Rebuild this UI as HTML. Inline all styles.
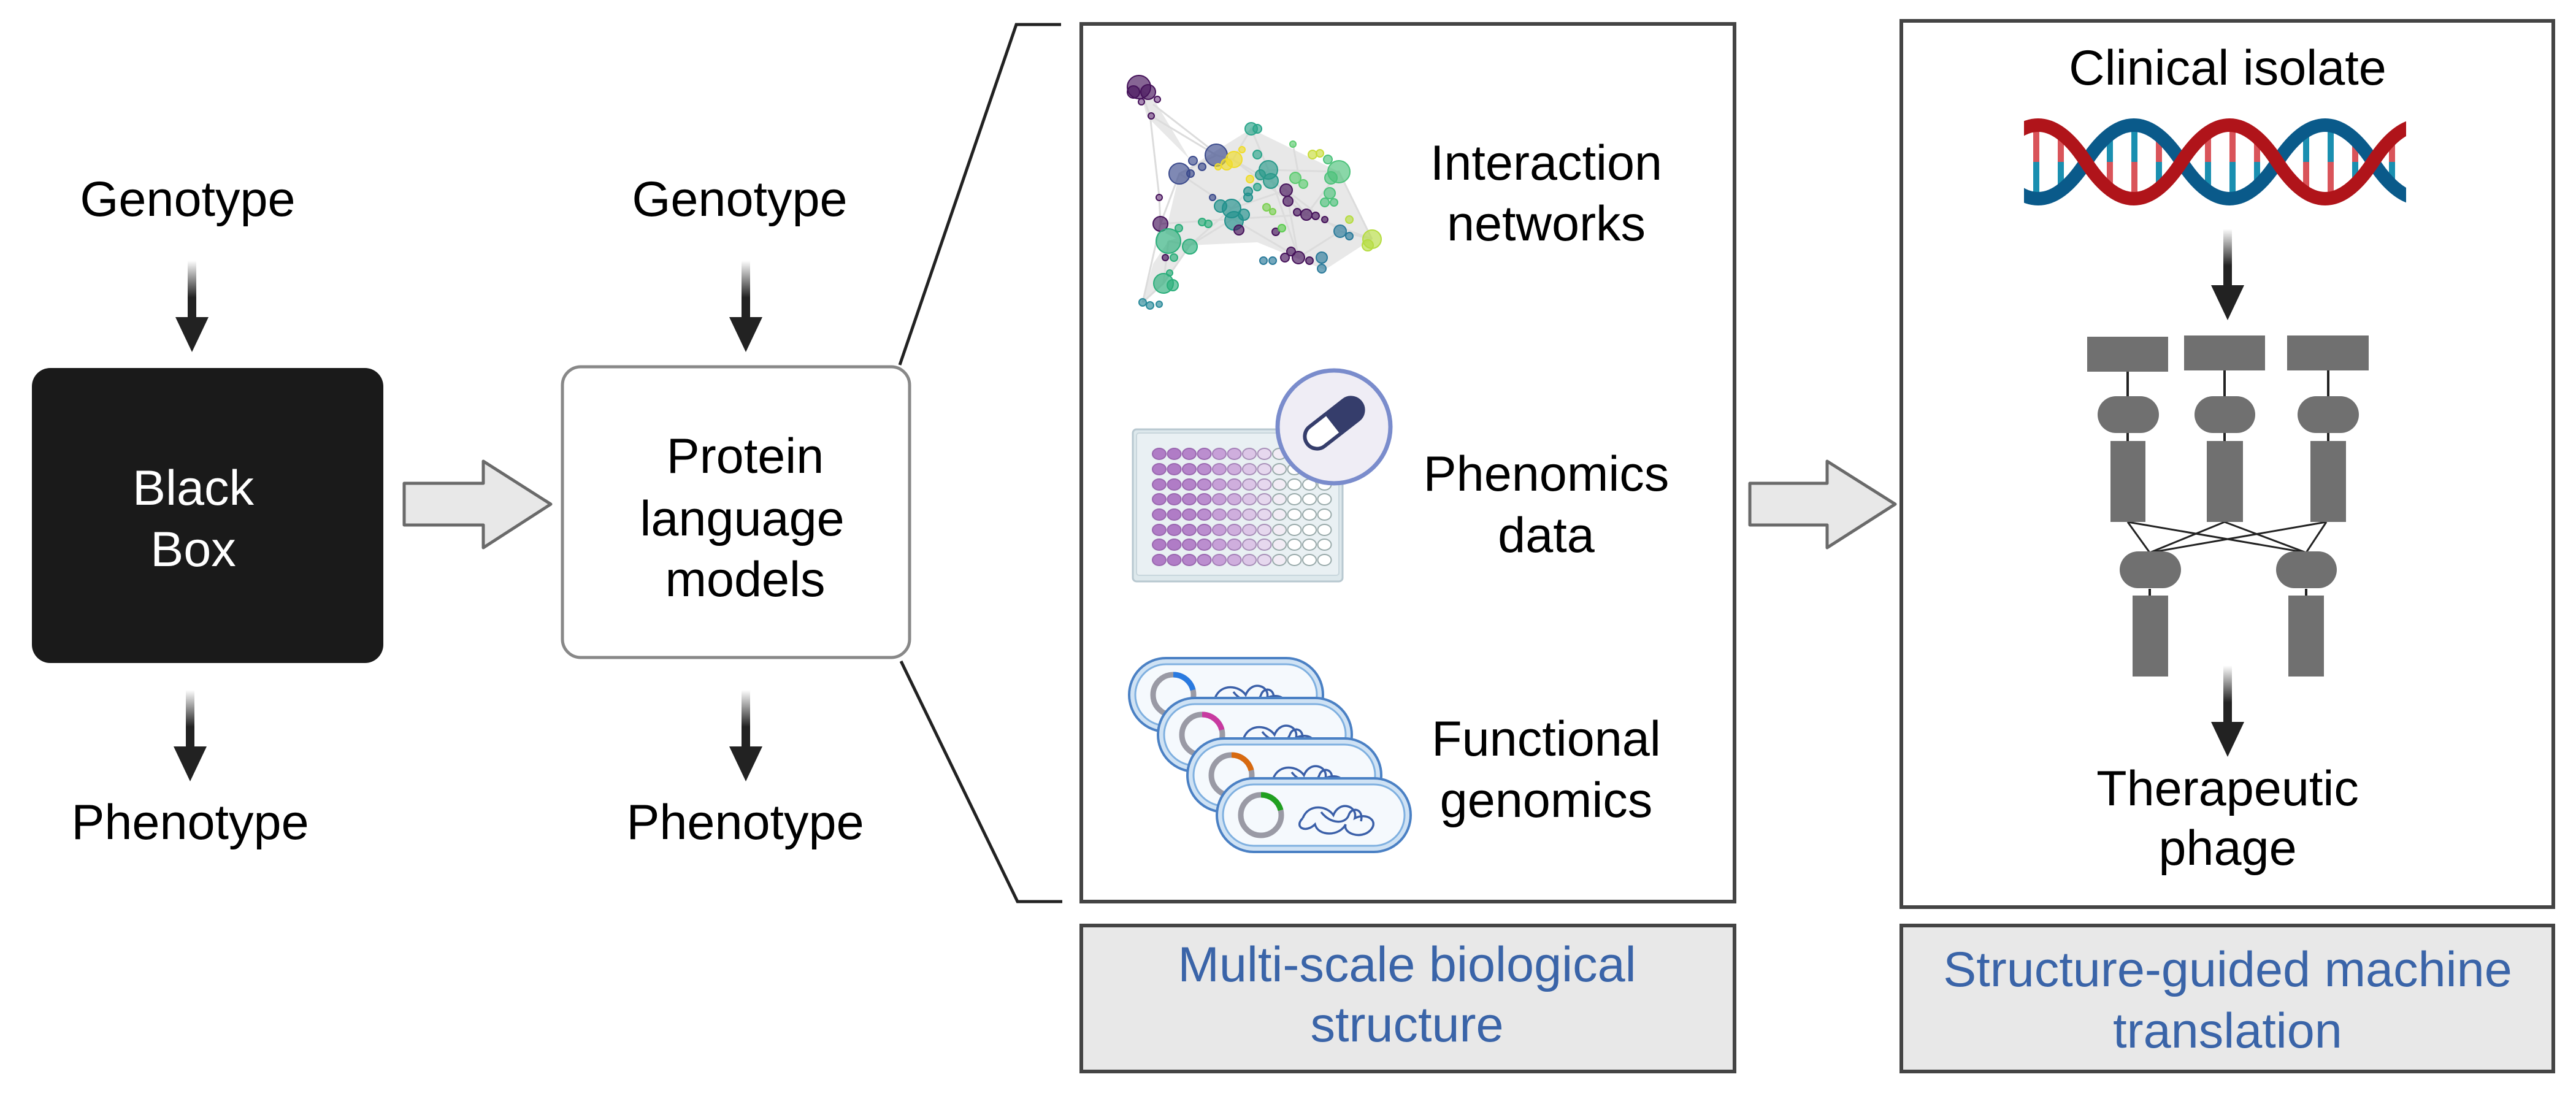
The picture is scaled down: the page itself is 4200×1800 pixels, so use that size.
<!DOCTYPE html>
<html><head><meta charset="utf-8"><style>
html,body{margin:0;padding:0;background:#fff}
svg{display:block}
text{font-family:"Liberation Sans",sans-serif;font-size:81px;text-anchor:middle}
</style></head><body>
<svg width="4200" height="1800" viewBox="0 0 4200 1800" xmlns="http://www.w3.org/2000/svg">
<defs>
<linearGradient id="sg" x1="0" y1="0" x2="0" y2="1"><stop offset="0" stop-color="#fff"/><stop offset="0.6" stop-color="#222"/><stop offset="1" stop-color="#222"/></linearGradient>
<g id="darr"><rect x="-7" y="0" width="14" height="100" fill="url(#sg)"/><polygon points="-27,92 27,92 0,149" fill="#222"/></g>
<g id="wrow">
<ellipse cx="0" cy="0" rx="11" ry="9" fill="#b07cc6" stroke="#9a68b0" stroke-width="2"/>
<ellipse cx="24.5" cy="0" rx="11" ry="9" fill="#b07cc6" stroke="#9a68b0" stroke-width="2"/>
<ellipse cx="49" cy="0" rx="11" ry="9" fill="#b584ca" stroke="#9a68b0" stroke-width="2"/>
<ellipse cx="73.5" cy="0" rx="11" ry="9" fill="#bb8ecf" stroke="#9a68b0" stroke-width="2"/>
<ellipse cx="98" cy="0" rx="11" ry="9" fill="#c7a0d8" stroke="#a580b8" stroke-width="2"/>
<ellipse cx="122.5" cy="0" rx="11" ry="9" fill="#cfaedd" stroke="#a580b8" stroke-width="2"/>
<ellipse cx="147" cy="0" rx="11" ry="9" fill="#dcc6e7" stroke="#a890b8" stroke-width="2"/>
<ellipse cx="171.5" cy="0" rx="11" ry="9" fill="#e6d8ee" stroke="#a890b8" stroke-width="2"/>
<ellipse cx="196" cy="0" rx="11" ry="9" fill="#f2ecf5" stroke="#9aa" stroke-width="2"/>
<ellipse cx="220.5" cy="0" rx="11" ry="9" fill="#fff" stroke="#9aa" stroke-width="2"/>
<ellipse cx="245" cy="0" rx="11" ry="9" fill="#fff" stroke="#9aa" stroke-width="2"/>
<ellipse cx="269.5" cy="0" rx="11" ry="9" fill="#fff" stroke="#9aa" stroke-width="2"/>
</g>
<g id="cell">
<rect x="0" y="0" width="316" height="120" rx="60" fill="#cfe2f4" stroke="#4a80c4" stroke-width="4"/>
<rect x="10" y="10" width="296" height="100" rx="50" fill="#f5f9fd" stroke="#7fb0e0" stroke-width="3"/>
<circle cx="72" cy="60" r="33" fill="none" stroke="#9a9aa5" stroke-width="9"/>
<path d="M140,65 c10,-25 40,-20 50,-5 c10,-25 40,-15 35,5 c20,-10 40,5 25,20 c-15,15 -45,5 -40,-10 c-10,20 -45,20 -50,0 c-15,15 -35,5 -20,-10 M170,55 c15,20 40,20 45,5 c5,-15 25,-10 20,10" fill="none" stroke="#3a5fa8" stroke-width="3.5"/>
</g>
</defs>

<text x="306" y="352">Genotype</text>
<use href="#darr" x="313" y="425"/>
<rect x="52" y="600" width="573" height="481" rx="30" fill="#1a1a1a"/>
<text x="315" y="823" fill="#fff">Black</text>
<text x="315" y="923" fill="#fff">Box</text>
<use href="#darr" x="310" y="1125"/>
<text x="310" y="1368">Phenotype</text>

<polygon points="659,788 788,788 788,752 898,822 788,893 788,856 659,856" fill="#e8e8e8" stroke="#6a6a6a" stroke-width="5" stroke-linejoin="round"/>

<text x="1206" y="352">Genotype</text>
<use href="#darr" x="1216" y="425"/>
<rect x="917" y="598" width="566" height="474" rx="30" fill="#fff" stroke="#888" stroke-width="5"/>
<text x="1215" y="771">Protein</text>
<text x="1210" y="873">language</text>
<text x="1215" y="972">models</text>
<use href="#darr" x="1216" y="1125"/>
<text x="1215" y="1368">Phenotype</text>

<polyline points="1467,595 1657,40 1730,40" fill="none" stroke="#222" stroke-width="5"/>
<polyline points="1469,1078 1659,1470 1732,1470" fill="none" stroke="#222" stroke-width="5"/>

<rect x="1763" y="39" width="1065" height="1431" fill="#fff" stroke="#444" stroke-width="6"/>
<rect x="1763" y="1509" width="1065" height="238" fill="#e8e8e8" stroke="#444" stroke-width="6"/>
<text x="2294" y="1600" fill="#3a64a8">Multi-scale biological</text>
<text x="2294" y="1698" fill="#3a64a8">structure</text>

<text x="2521" y="293">Interaction</text>
<text x="2521" y="392">networks</text>
<text x="2521" y="800">Phenomics</text>
<text x="2521" y="900">data</text>
<text x="2521" y="1232">Functional</text>
<text x="2521" y="1332">genomics</text>

<!-- network -->
<g fill="#e6e6e6" opacity="0.9">
<polygon points="1923,283 2040,210 2183,280 2237,390 2160,440 2050,395 1940,400 1900,380"/>
<polygon points="1863,493 1897,462 1940,400 2010,357 1905,393 1880,430"/>
<polygon points="1857,142 1880,160 1940,260 1870,190"/>
</g>
<g stroke="#dcdcdc" stroke-width="3" fill="none">
<path d="M1857,142 L1875,188 L1890,320 L1892,365 L1863,493 M1875,188 L1983,253 L2010,260 L2040,210 L2068,277 L2183,280 M1923,283 L2008,340 L2097,310 L2185,377 L2237,390 M1892,365 L2010,357 L2130,350 L2237,390 M1905,393 L1940,400 L2008,340 L2068,277 M1897,462 L1940,400 L2010,357 L2117,420 L2185,377 M1863,493 L1897,462 L1905,393 M2040,210 L2010,260 L2097,310 L2130,350 L2183,280 L2237,390 M1983,253 L1923,283 L1892,365 M2068,277 L2117,420 L2097,310 M1880,170 L1970,240 M2010,260 L2130,350 M2108,235 L2120,300"/>
</g>
<g stroke-width="2" fill-opacity="0.65">
<circle cx="1857" cy="142" r="19" fill="#45125a" stroke="#45125a"/>
<circle cx="1872" cy="150" r="12" fill="#45125a" stroke="#45125a"/>
<circle cx="1848" cy="150" r="10" fill="#45125a" stroke="#45125a"/>
<circle cx="1861" cy="166" r="5" fill="#7a4a8a" stroke="#45125a"/>
<circle cx="1887" cy="162" r="5" fill="#7a4a8a" stroke="#45125a"/>
<circle cx="1877" cy="189" r="5" fill="#7a4a8a" stroke="#45125a"/>
<circle cx="1983" cy="253" r="18" fill="#3b4a8c" stroke="#3b4a8c"/>
<circle cx="1923" cy="283" r="17" fill="#3b4a8c" stroke="#3b4a8c"/>
<circle cx="1945" cy="262" r="7" fill="#3b4a8c" stroke="#3b4a8c"/>
<circle cx="1941" cy="283" r="6" fill="#3b4a8c" stroke="#3b4a8c"/>
<circle cx="1960" cy="272" r="6" fill="#3b4a8c" stroke="#3b4a8c"/>
<circle cx="2012" cy="260" r="13" fill="#f0dc2a" stroke="#f0dc2a"/>
<circle cx="2000" cy="268" r="9" fill="#f0dc2a" stroke="#f0dc2a"/>
<circle cx="2025" cy="244" r="5" fill="#f0dc2a" stroke="#f0dc2a"/>
<circle cx="1986" cy="272" r="5" fill="#f0dc2a" stroke="#f0dc2a"/>
<circle cx="2038" cy="292" r="6" fill="#f0dc2a" stroke="#f0dc2a"/>
<circle cx="2068" cy="277" r="15" fill="#2a9a8a" stroke="#2a9a8a"/>
<circle cx="2072" cy="295" r="12" fill="#2a9a8a" stroke="#2a9a8a"/>
<circle cx="2055" cy="285" r="8" fill="#2a9a8a" stroke="#2a9a8a"/>
<circle cx="2040" cy="210" r="10" fill="#2aa58a" stroke="#2aa58a"/>
<circle cx="2050" cy="210" r="7" fill="#2aa58a" stroke="#2aa58a"/>
<circle cx="2050" cy="252" r="7" fill="#2aa58a" stroke="#2aa58a"/>
<circle cx="2050" cy="305" r="6" fill="#2aa58a" stroke="#2aa58a"/>
<circle cx="2183" cy="280" r="18" fill="#4cc27a" stroke="#4cc27a"/>
<circle cx="2170" cy="290" r="10" fill="#4cc27a" stroke="#4cc27a"/>
<circle cx="2165" cy="260" r="7" fill="#4cc27a" stroke="#4cc27a"/>
<circle cx="2140" cy="252" r="7" fill="#c8dc3a" stroke="#c8dc3a"/>
<circle cx="2152" cy="250" r="6" fill="#c8dc3a" stroke="#c8dc3a"/>
<circle cx="2108" cy="235" r="5" fill="#5ccc70" stroke="#5ccc70"/>
<circle cx="2112" cy="290" r="9" fill="#5ccc70" stroke="#5ccc70"/>
<circle cx="2125" cy="300" r="7" fill="#5ccc70" stroke="#5ccc70"/>
<circle cx="2168" cy="315" r="9" fill="#4cc27a" stroke="#4cc27a"/>
<circle cx="2160" cy="330" r="7" fill="#4cc27a" stroke="#4cc27a"/>
<circle cx="2008" cy="340" r="15" fill="#21918c" stroke="#21918c"/>
<circle cx="2012" cy="360" r="15" fill="#21918c" stroke="#21918c"/>
<circle cx="1990" cy="336" r="10" fill="#21918c" stroke="#21918c"/>
<circle cx="2028" cy="350" r="9" fill="#21918c" stroke="#21918c"/>
<circle cx="2035" cy="312" r="7" fill="#21918c" stroke="#21918c"/>
<circle cx="2035" cy="322" r="7" fill="#21918c" stroke="#21918c"/>
<circle cx="1977" cy="322" r="5" fill="#3b4a8c" stroke="#3b4a8c"/>
<circle cx="1892" cy="365" r="12" fill="#45125a" stroke="#45125a"/>
<circle cx="1890" cy="322" r="5" fill="#7a4a8a" stroke="#45125a"/>
<circle cx="1905" cy="393" r="20" fill="#2aae7a" stroke="#2aae7a"/>
<circle cx="1940" cy="402" r="12" fill="#2aae7a" stroke="#2aae7a"/>
<circle cx="1922" cy="372" r="6" fill="#2aae7a" stroke="#2aae7a"/>
<circle cx="1960" cy="362" r="6" fill="#2aae7a" stroke="#2aae7a"/>
<circle cx="1970" cy="365" r="6" fill="#2aae7a" stroke="#2aae7a"/>
<circle cx="1914" cy="420" r="6" fill="#2aae7a" stroke="#2aae7a"/>
<circle cx="1897" cy="462" r="16" fill="#2aae7a" stroke="#2aae7a"/>
<circle cx="1912" cy="465" r="9" fill="#2aae7a" stroke="#2aae7a"/>
<circle cx="1907" cy="445" r="5" fill="#2aae7a" stroke="#2aae7a"/>
<circle cx="1863" cy="493" r="6" fill="#2a8a9a" stroke="#2a8a9a"/>
<circle cx="1875" cy="498" r="6" fill="#2a8a9a" stroke="#2a8a9a"/>
<circle cx="1890" cy="496" r="5" fill="#2a8a9a" stroke="#2a8a9a"/>
<circle cx="1900" cy="420" r="5" fill="#45125a" stroke="#45125a"/>
<circle cx="2097" cy="310" r="10" fill="#45125a" stroke="#45125a"/>
<circle cx="2100" cy="328" r="8" fill="#45125a" stroke="#45125a"/>
<circle cx="2130" cy="350" r="9" fill="#45125a" stroke="#45125a"/>
<circle cx="2145" cy="352" r="6" fill="#45125a" stroke="#45125a"/>
<circle cx="2115" cy="346" r="6" fill="#45125a" stroke="#45125a"/>
<circle cx="2117" cy="420" r="10" fill="#45125a" stroke="#45125a"/>
<circle cx="2095" cy="420" r="7" fill="#45125a" stroke="#45125a"/>
<circle cx="2105" cy="410" r="7" fill="#45125a" stroke="#45125a"/>
<circle cx="2135" cy="425" r="6" fill="#45125a" stroke="#45125a"/>
<circle cx="2080" cy="378" r="6" fill="#45125a" stroke="#45125a"/>
<circle cx="2160" cy="358" r="5" fill="#45125a" stroke="#45125a"/>
<circle cx="2020" cy="375" r="8" fill="#45125a" stroke="#45125a"/>
<circle cx="2090" cy="372" r="6" fill="#5ccc50" stroke="#5ccc50"/>
<circle cx="2065" cy="338" r="6" fill="#7ad050" stroke="#7ad050"/>
<circle cx="2075" cy="345" r="5" fill="#7ad050" stroke="#7ad050"/>
<circle cx="2185" cy="377" r="10" fill="#2a7a9a" stroke="#2a7a9a"/>
<circle cx="2200" cy="385" r="6" fill="#2a7a9a" stroke="#2a7a9a"/>
<circle cx="2155" cy="420" r="9" fill="#2a7a9a" stroke="#2a7a9a"/>
<circle cx="2155" cy="438" r="7" fill="#2a7a9a" stroke="#2a7a9a"/>
<circle cx="2060" cy="425" r="6" fill="#2a7a9a" stroke="#2a7a9a"/>
<circle cx="2075" cy="425" r="6" fill="#2a7a9a" stroke="#2a7a9a"/>
<circle cx="2237" cy="390" r="15" fill="#b5dc40" stroke="#b5dc40"/>
<circle cx="2230" cy="400" r="9" fill="#b5dc40" stroke="#b5dc40"/>
<circle cx="2200" cy="358" r="6" fill="#b5dc40" stroke="#b5dc40"/>
<circle cx="2175" cy="330" r="6" fill="#4cc27a" stroke="#4cc27a"/>
</g>

<!-- plate -->
<rect x="1847" y="700" width="342" height="248" rx="6" fill="#dde8ec" stroke="#b8c8d0" stroke-width="3"/>
<rect x="1853" y="706" width="330" height="232" rx="4" fill="#e9f0f3" stroke="#c8d6dc" stroke-width="2"/>
<g>
<use href="#wrow" x="1890" y="740"/>
<use href="#wrow" x="1890" y="765"/>
<use href="#wrow" x="1890" y="790"/>
<use href="#wrow" x="1890" y="814"/>
<use href="#wrow" x="1890" y="839"/>
<use href="#wrow" x="1890" y="864"/>
<use href="#wrow" x="1890" y="888"/>
<use href="#wrow" x="1890" y="913"/>
</g>
<circle cx="2175" cy="696" r="92" fill="#efedf5" stroke="#7a8ccc" stroke-width="7"/>
<g transform="translate(2175,690) rotate(-38)">
<rect x="-55" y="-20" width="110" height="40" rx="20" fill="#fff" stroke="#353d6b" stroke-width="6"/>
<path d="M0,-20 L35,-20 A20,20 0 0 1 35,20 L0,20 Z" fill="#353d6b"/>
<rect x="-3" y="-20" width="40" height="40" fill="#353d6b"/>
</g>

<use href="#cell" x="1841" y="1073"/>
<path d="M1913,1100 a33,33 0 0 1 32,25" fill="none" stroke="#2a7ae0" stroke-width="9"/>
<use href="#cell" x="1888" y="1138"/>
<path d="M1960,1165 a33,33 0 0 1 32,25" fill="none" stroke="#c83aa0" stroke-width="9"/>
<use href="#cell" x="1936" y="1204"/>
<path d="M2008,1231 a33,33 0 0 1 32,25" fill="none" stroke="#d86a10" stroke-width="9"/>
<use href="#cell" x="1984" y="1269"/>
<path d="M2056,1296 a33,33 0 0 1 32,25" fill="none" stroke="#20a020" stroke-width="9"/>

<polygon points="2853,788 2979,788 2979,752 3090,822 2979,893 2979,856 2853,856" fill="#e8e8e8" stroke="#6a6a6a" stroke-width="5" stroke-linejoin="round"/>

<rect x="3100" y="34" width="1063" height="1445" fill="#fff" stroke="#444" stroke-width="6"/>
<rect x="3100" y="1509" width="1063" height="238" fill="#e8e8e8" stroke="#444" stroke-width="6"/>
<text x="3632" y="1608" fill="#3a64a8">Structure-guided machine</text>
<text x="3632" y="1708" fill="#3a64a8">translation</text>
<text x="3632" y="138">Clinical isolate</text>

<clipPath id="dc"><rect x="3300" y="150" width="623" height="220"/></clipPath>
<g clip-path="url(#dc)">
<g stroke-width="10">
<line x1="3320" y1="204" x2="3320" y2="264" stroke="#d9545a"/><line x1="3320" y1="264" x2="3320" y2="324" stroke="#1a8fb0"/>
<line x1="3360" y1="220" x2="3360" y2="264" stroke="#d9545a"/><line x1="3360" y1="264" x2="3360" y2="308" stroke="#1a8fb0"/>
<line x1="3440" y1="222" x2="3440" y2="264" stroke="#1a8fb0"/><line x1="3440" y1="264" x2="3440" y2="306" stroke="#d9545a"/>
<line x1="3480" y1="204" x2="3480" y2="264" stroke="#1a8fb0"/><line x1="3480" y1="264" x2="3480" y2="324" stroke="#d9545a"/>
<line x1="3520" y1="223" x2="3520" y2="264" stroke="#d9545a"/><line x1="3520" y1="264" x2="3520" y2="305" stroke="#1a8fb0"/>
<line x1="3600" y1="218" x2="3600" y2="264" stroke="#d9545a"/><line x1="3600" y1="264" x2="3600" y2="310" stroke="#1a8fb0"/>
<line x1="3640" y1="204" x2="3640" y2="264" stroke="#d9545a"/><line x1="3640" y1="264" x2="3640" y2="324" stroke="#1a8fb0"/>
<line x1="3680" y1="227" x2="3680" y2="264" stroke="#d9545a"/><line x1="3680" y1="264" x2="3680" y2="301" stroke="#1a8fb0"/>
<line x1="3760" y1="215" x2="3760" y2="264" stroke="#1a8fb0"/><line x1="3760" y1="264" x2="3760" y2="313" stroke="#d9545a"/>
<line x1="3800" y1="205" x2="3800" y2="264" stroke="#1a8fb0"/><line x1="3800" y1="264" x2="3800" y2="323" stroke="#d9545a"/>
<line x1="3840" y1="231" x2="3840" y2="264" stroke="#d9545a"/><line x1="3840" y1="264" x2="3840" y2="297" stroke="#1a8fb0"/>
<line x1="3900" y1="229" x2="3900" y2="264" stroke="#d9545a"/><line x1="3900" y1="264" x2="3900" y2="299" stroke="#1a8fb0"/>
</g>
<path d="M3245,264 q78,120 156,0 t156,0 t156,0 t156,0 t156,0" fill="none" stroke="#0a5a8a" stroke-width="22"/>
<path d="M3245,264 q78,-120 156,0 t156,0 t156,0 t156,0 t156,0" fill="none" stroke="#b0141a" stroke-width="22"/>
</g>

<use href="#darr" x="3632" y="373"/>

<g stroke="#222" stroke-width="4">
<line x1="3469" y1="600" x2="3469" y2="720"/>
<line x1="3627" y1="600" x2="3627" y2="720"/>
<line x1="3796" y1="600" x2="3796" y2="720"/>
<line x1="3505" y1="960" x2="3505" y2="980"/>
<line x1="3760" y1="960" x2="3760" y2="980"/>
</g>
<g stroke="#222" stroke-width="3">
<line x1="3469" y1="851" x2="3505" y2="901"/><line x1="3469" y1="851" x2="3760" y2="901"/>
<line x1="3627" y1="851" x2="3505" y2="901"/><line x1="3627" y1="851" x2="3760" y2="901"/>
<line x1="3793" y1="851" x2="3505" y2="901"/><line x1="3793" y1="851" x2="3760" y2="901"/>
</g>
<g fill="#707070">
<rect x="3403" y="549" width="132" height="57"/>
<rect x="3561" y="547" width="132" height="57"/>
<rect x="3729" y="547" width="133" height="57"/>
<rect x="3420" y="646" width="100" height="60" rx="30"/>
<rect x="3578" y="646" width="99" height="60" rx="30"/>
<rect x="3746" y="646" width="100" height="60" rx="30"/>
<rect x="3441" y="719" width="57" height="132"/>
<rect x="3598" y="719" width="59" height="132"/>
<rect x="3767" y="719" width="58" height="132"/>
<rect x="3456" y="899" width="100" height="60" rx="30"/>
<rect x="3711" y="899" width="99" height="60" rx="30"/>
<rect x="3477" y="971" width="58" height="132"/>
<rect x="3731" y="971" width="58" height="132"/>
</g>

<use href="#darr" x="3632" y="1085"/>
<text x="3632" y="1313">Therapeutic</text>
<text x="3632" y="1410">phage</text>
</svg>
</body></html>
